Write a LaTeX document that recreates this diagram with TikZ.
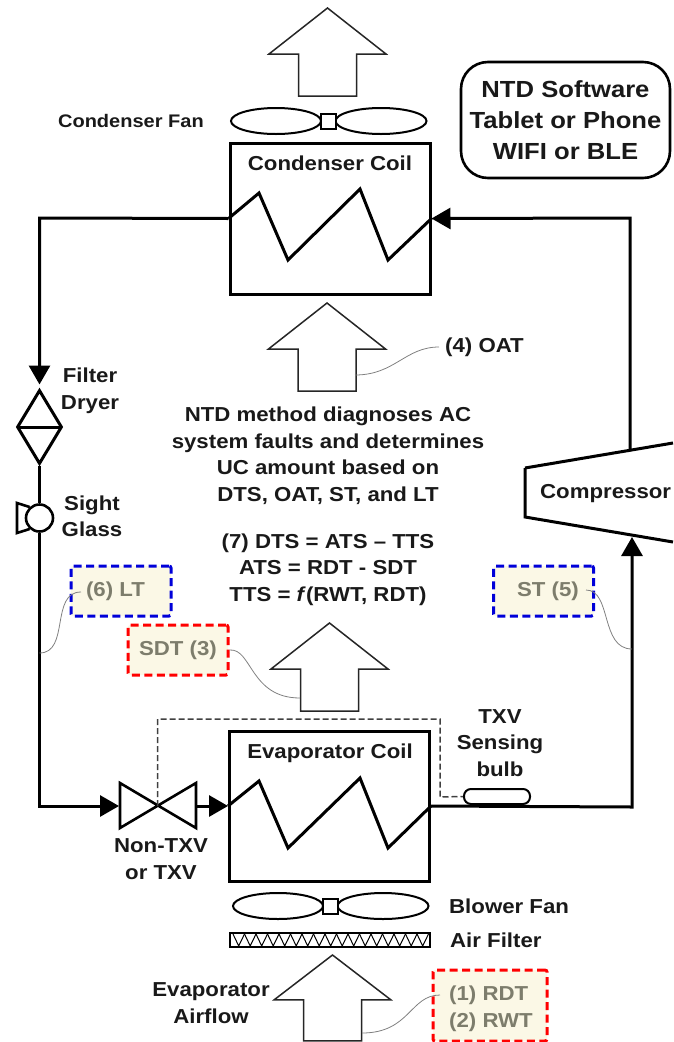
\documentclass[tikz,border=0pt]{standalone}
\usepackage{fontspec}
\setmainfont{Liberation Sans}[FakeStretch=1.1]
\usepackage{xcolor}
\usetikzlibrary{shapes.geometric, arrows.meta, positioning}
\definecolor{tagfill}{HTML}{FBF8E6}
\definecolor{tagtext}{HTML}{7D7D6C}
\begin{document}
\begin{tikzpicture}[x=1pt, y=-1pt, auto]
\tikzstyle{coil} = [rectangle, minimum width=200pt, draw=black, line width=3pt, inner sep=0pt]
\tikzstyle{pipe} = [line width=3pt, draw=black]
\tikzstyle{arrow} = [pipe,-{Triangle[length=19pt,width=21pt]}]
\tikzstyle{wave} = [line width=3pt, line join=miter]
\tikzstyle{air} = [line width=1.5pt, draw=black!85, fill=white, line join=miter]
\tikzstyle{lead} = [line width=0.8pt, draw=black!50]
\tikzstyle{txt} = [font=\bfseries\fontsize{20.2}{26.5}\selectfont, align=center, inner sep=0pt, text=black!90]
\tikzstyle{tagfont} = [inner sep=0pt, font=\bfseries\fontsize{20.2}{27}\selectfont, text=tagtext, align=left]
\tikzstyle{tag} = [tagfont, rectangle, minimum width=100pt, minimum height=50pt, fill=tagfill, line width=3pt, dash pattern=on 8pt off 4.5pt, rounded corners=2pt]
\tikzset{
  airup/.pic={\draw [air] (0,0) -- (58.5,46) -- (29,46) -- (29,88) -- (-29,88) -- (-29,46) -- (-58.5,46) -- cycle;},
  fan/.pic={
    \draw [line width=2pt] (-52,0) ellipse (45 and 13);
    \draw [line width=2pt] (53,0) ellipse (45.5 and 13);
    \draw [line width=2pt, fill=white] (-7,-7.5) rectangle (7.5,7.5);
  }
}
\useasboundingbox (0,0) rectangle (673,1042);

\node (condcoil) [coil, minimum height=151pt] at (330,218.5) {};
\node (evapcoil) [coil, minimum height=150pt] at (329.5,806) {};
\node (condlabel) [txt] at (330,163) {Condenser Coil};
\node (evaplabel) [txt] at (330,753) {Evaporator Coil};
\draw [wave] (condcoil.west) -- (259,193) -- (288,260) -- (360,189) -- (388,260) -- (condcoil.east);
\draw [wave] (evapcoil.west) -- (259,781) -- (288,848) -- (360,778) -- (388,848) -- (evapcoil.east);

\pic at (327.5,8) {airup};
\pic at (327,303) {airup};
\pic at (329.5,623) {airup};
\pic [yscale=0.977] at (332.5,955) {airup};
\pic at (328,121) {fan};
\pic at (330,906) {fan};

\node (filter) [diamond, draw=black, line width=3pt, minimum width=45pt, minimum height=74pt, inner sep=0pt] at (39.5,427) {};
\draw [line width=3pt, shorten <=1.5pt, shorten >=1.5pt] (filter.west) -- (filter.east);
\node (glass) [circle, draw=black, line width=2.6pt, minimum size=27pt, inner sep=0pt] at (39.5,518) {};
\draw [line width=2.6pt] (glass.132) -- (17,503) -- (17,533) -- (glass.228);
\node (txvjoint) [inner sep=0pt, minimum size=0pt] at (157.5,806) {};
\draw [line width=2.6pt] (120,783) -- (120,828) -- (196,783) -- (196,828) -- cycle;
\draw [pipe] (525,468) -- (673,443) (525,468) -- (525,517) -- (673,542);
\coordinate (comptop) at (630,451);
\coordinate (compbot) at (632,537);
\coordinate (suction) at (632,807);
\coordinate (discharge) at (630,218);
\coordinate (drain) at (39.5,218);

\draw [arrow, shorten >=4pt] (condcoil.west) -- (drain) -- (filter.north);
\draw [pipe] (filter.south) -- (glass.north);
\draw [arrow, shorten >=1pt] (glass.south) -- (39.5,806) -- (120,806);
\draw [arrow] (196,806) -- (evapcoil.west);
\draw [arrow] (evapcoil.east) -- (suction) -- (compbot);
\draw [arrow] (comptop) -- (discharge) -- (condcoil.east);

\node (bulb) [rectangle, rounded corners=7pt, draw=black, line width=2pt, fill=white, minimum width=66pt, minimum height=15pt, inner sep=0pt] at (497,796.5) {};
\draw [line width=1.5pt, draw=black!75, dash pattern=on 6pt off 3pt] (txvjoint.center) -- (157.5,719) -- (440,719) -- (440,797) -- (bulb.west);

\node (airfilter) [rectangle, draw=black, line width=2pt, minimum width=200pt, minimum height=14pt, inner sep=0pt] at (330,940) {};
\foreach \x in {0,...,16} {
  \draw [line width=1pt] (233+\x*11.5,934) -- (238.7+\x*11.5,946) -- (244.5+\x*11.5,934);
}

\node (fanlabel) [txt, anchor=east, font=\bfseries\fontsize{18.2}{24}\selectfont] at (204,121) {Condenser Fan};
\node (software) [rectangle, rounded corners=27pt, draw=black, line width=2.6pt, minimum width=209pt, minimum height=116pt, inner sep=0pt, font=\bfseries\fontsize{23.3}{31}\selectfont, align=center, text=black!90] at (565.5,120) {NTD Software\\Tablet or Phone\\WIFI or BLE};
\node (drylabel) [txt] at (90,391) {Filter\\Dryer};
\node (glasslabel) [txt] at (92,516.5) {Sight\\Glass};
\node (oatlabel) [txt, anchor=west] at (445,347) {(4) OAT};
\node (method) [txt] at (328,455.5) {NTD method diagnoses AC\\system faults and determines\\UC amount based on\\DTS, OAT, ST, and LT};
\node (formula) [txt] at (328,569.5) {(7) DTS = ATS -- TTS\\ATS = RDT - SDT\\TTS = \textit{f}(RWT, RDT)};
\node (complabel) [txt, anchor=west] at (540,494) {Compressor};
\node (bulblabel) [txt] at (500,743) {TXV\\Sensing\\bulb};
\node (valvelabel) [txt] at (161,859) {Non-TXV\\or TXV};
\node (blowerlabel) [txt, anchor=west] at (449,906) {Blower Fan};
\node (filterlabel) [txt, anchor=west] at (450,940) {Air Filter};
\node (airlabel) [txt] at (211,1003) {Evaporator\\Airflow};

\node (lt) [tag, draw=blue!85!black] at (121,591) {(6) LT\hspace*{11pt}};
\node (sdt) [tag, draw=red] at (178,650) {SDT (3)};
\node (st) [tag, draw=blue!85!black] at (543.5,591) {\hspace*{9pt}ST (5)};
\node (rdt) [tag, draw=red, minimum width=114pt, minimum height=71pt] at (490,1005.5) {};
\node (rdttext) [tagfont] at (491,1008.5) {(1) RDT\\(2) RWT};

\draw [lead] (oatlabel.west) ++(-6,0) .. controls (405,347) and (395,375) .. (355,375);
\draw [lead] (sdt.east) .. controls (252,648) and (250,698) .. (300,698);
\draw [lead] (81,592) .. controls (50,592) and (70,653) .. (39.5,653);
\draw [lead] (586,590) .. controls (612,590) and (600,649) .. (632,649);
\draw [lead] (440,995) .. controls (410,995) and (410,1033) .. (362,1033);
\end{tikzpicture}
\end{document}
